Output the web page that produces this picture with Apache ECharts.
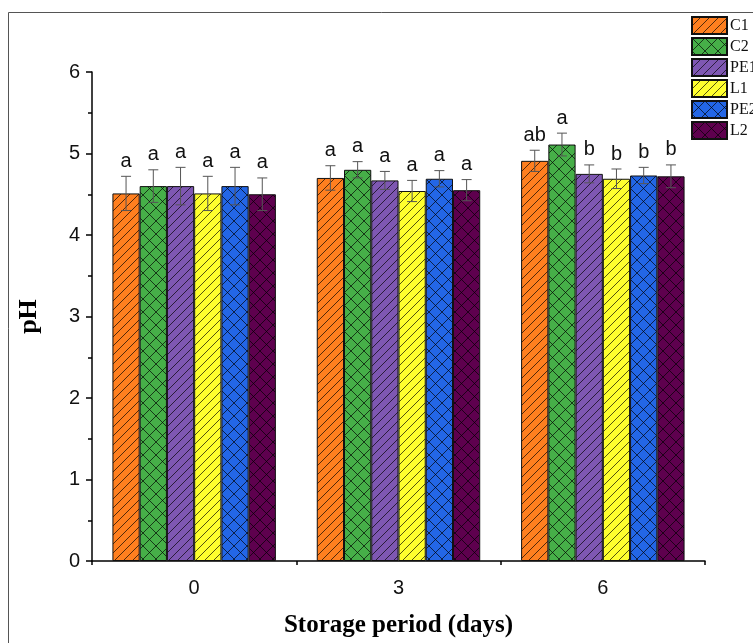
<!DOCTYPE html>
<html><head><meta charset="utf-8">
<script src="https://cdn.jsdelivr.net/npm/echarts@6/dist/echarts.min.js"></script>
<style>html,body{margin:0;padding:0;background:#fff}#c{width:753px;height:643px}</style>
</head><body><div id="c"></div>
<script>
const categories = ['0', '3', '6'];
const seriesNames = ['C1', 'C2', 'PE1', 'L1', 'PE2', 'L2'];
const C1 = [4.51, 4.70, 4.91];
const C2 = [4.60, 4.80, 5.11];
const PE1 = [4.60, 4.67, 4.75];
const L1 = [4.51, 4.54, 4.69];
const PE2 = [4.60, 4.69, 4.73];
const L2 = [4.50, 4.55, 4.72];
const C1_err = [0.21, 0.15, 0.13];
const C2_err = [0.20, 0.10, 0.14];
const PE1_err = [0.23, 0.11, 0.11];
const L1_err = [0.21, 0.13, 0.12];
const PE2_err = [0.23, 0.10, 0.10];
const L2_err = [0.20, 0.13, 0.14];
const C1_sig = ['a', 'a', 'ab'];
const C2_sig = ['a', 'a', 'a'];
const PE1_sig = ['a', 'a', 'b'];
const L1_sig = ['a', 'a', 'b'];
const PE2_sig = ['a', 'a', 'b'];
const L2_sig = ['a', 'a', 'b'];
const yTicks = [0, 1, 2, 3, 4, 5, 6];

const values = [C1, C2, PE1, L1, PE2, L2];
const errs = [C1_err, C2_err, PE1_err, L1_err, PE2_err, L2_err];
const sigs = [C1_sig, C2_sig, PE1_sig, L1_sig, PE2_sig, L2_sig];
const colors = ['#FF7F1F', '#46AF48', '#7E57B2', '#FFFF2E', '#2366E6', '#5E004E'];
const hatch = ['diag', 'cross', 'diag', 'diag', 'cross', 'cross'];

function makePattern(bg, type) {
  const s = type === 'diag' ? 9 : 13;
  const cv = document.createElement('canvas');
  cv.width = s; cv.height = s;
  const ctx = cv.getContext('2d');
  ctx.fillStyle = bg; ctx.fillRect(0, 0, s, s);
  ctx.strokeStyle = 'rgba(0,0,0,0.85)';
  ctx.lineWidth = 0.8;
  ctx.beginPath();
  ctx.moveTo(-1, s + 1); ctx.lineTo(s + 1, -1);
  ctx.moveTo(-2, 2); ctx.lineTo(2, -2);
  ctx.moveTo(s - 2, s + 2); ctx.lineTo(s + 2, s - 2);
  if (type === 'cross') {
    ctx.moveTo(-1, -1); ctx.lineTo(s + 1, s + 1);
    ctx.moveTo(s - 2, -2); ctx.lineTo(s + 2, 2);
    ctx.moveTo(-2, s - 2); ctx.lineTo(2, s + 2);
  }
  ctx.stroke();
  return { image: cv, repeat: 'repeat' };
}

const errData = [];
for (let s = 0; s < 6; s++) for (let c = 0; c < 3; c++)
  errData.push([c, s, values[s][c], errs[s][c], sigs[s][c]]);

const series = seriesNames.map((n, i) => ({
  name: n, type: 'bar', data: values[i],
  barGap: '0%', barCategoryGap: '20%',
  itemStyle: { color: makePattern(colors[i], hatch[i]), borderColor: '#111', borderWidth: 1 }
}));
series.push({
  type: 'custom', data: errData, z: 10,
  encode: { x: 0, y: 2 },
  renderItem: function (params, api) {
    const c = api.value(0), s = api.value(1), v = api.value(2), e = api.value(3);
    const band = api.size([1, 0])[0];
    const bw = band * 0.8 / 6;
    const base = api.coord([c, v]);
    const x = base[0] + (s - 2.5) * bw;
    const yt = api.coord([c, v + e])[1];
    const yb = api.coord([c, v - e])[1];
    const st = { stroke: '#555', lineWidth: 1 };
    return {
      type: 'group', children: [
        { type: 'line', shape: { x1: x, y1: yt, x2: x, y2: yb }, style: st },
        { type: 'line', shape: { x1: x - 5, y1: yt, x2: x + 5, y2: yt }, style: st },
        { type: 'line', shape: { x1: x - 5, y1: yb, x2: x + 5, y2: yb }, style: st },
        { type: 'text', style: { text: sigs[s][c], x: x, y: yt - 5, textAlign: 'center', textVerticalAlign: 'bottom',
          fill: '#111', font: '20px "Liberation Sans", Arial, sans-serif' } }
      ]
    };
  }
});

const chart = echarts.init(document.getElementById('c'), null, { renderer: 'canvas' });
chart.setOption({
  animation: false,
  backgroundColor: '#fff',
  graphic: [{ type: 'rect', shape: { x: 8.5, y: 12.5, width: 800, height: 700 },
    style: { fill: 'none', stroke: '#555', lineWidth: 1 }, silent: true }],
  legend: {
    data: seriesNames, orient: 'vertical', left: 691, top: 16,
    itemWidth: 35, itemHeight: 17, itemGap: 2, icon: 'rect', padding: 0,
    textStyle: { fontFamily: '"Liberation Serif", "Times New Roman", serif', fontSize: 16, color: '#111', padding: [0, 0, 0, -2] }
  },
  grid: { left: 92, right: 48, top: 72, bottom: 72 },
  xAxis: [{
    type: 'category', data: categories,
    axisLine: { lineStyle: { color: '#000', width: 1.5 } },
    axisTick: { alignWithLabel: true, length: 6, lineStyle: { color: '#000', width: 1.5 } },
    axisLabel: { fontFamily: '"Liberation Sans", Arial, sans-serif', fontSize: 20, color: '#111', margin: 17 },
    name: 'Storage period (days)', nameLocation: 'middle', nameGap: 52,
    nameTextStyle: { fontFamily: '"Liberation Serif", "Times New Roman", serif', fontWeight: 'bold', fontSize: 25, color: '#000' }
  }, {
    type: 'category', data: categories, position: 'bottom',
    axisLine: { show: false }, axisLabel: { show: false },
    axisTick: { show: true, length: 4, interval: 0, lineStyle: { color: '#000', width: 1.5 } }
  }],
  yAxis: {
    type: 'value', min: 0, max: 6, interval: 1,
    axisLine: { show: true, lineStyle: { color: '#000', width: 1.5 } },
    axisTick: { show: true, length: 6, lineStyle: { color: '#000', width: 1.5 } },
    minorTick: { show: true, splitNumber: 2, length: 4, lineStyle: { color: '#000', width: 1.5 } },
    splitLine: { show: false },
    axisLabel: { fontFamily: '"Liberation Sans", Arial, sans-serif', fontSize: 20, color: '#111', margin: 12,
      formatter: v => (yTicks.indexOf(v) >= 0 ? String(v) : '') },
    name: 'pH', nameLocation: 'middle', nameGap: 50, nameRotate: 90,
    nameTextStyle: { fontFamily: '"Liberation Serif", "Times New Roman", serif', fontWeight: 'bold', fontSize: 26, color: '#000' }
  },
  series: series
});
</script></body></html>
